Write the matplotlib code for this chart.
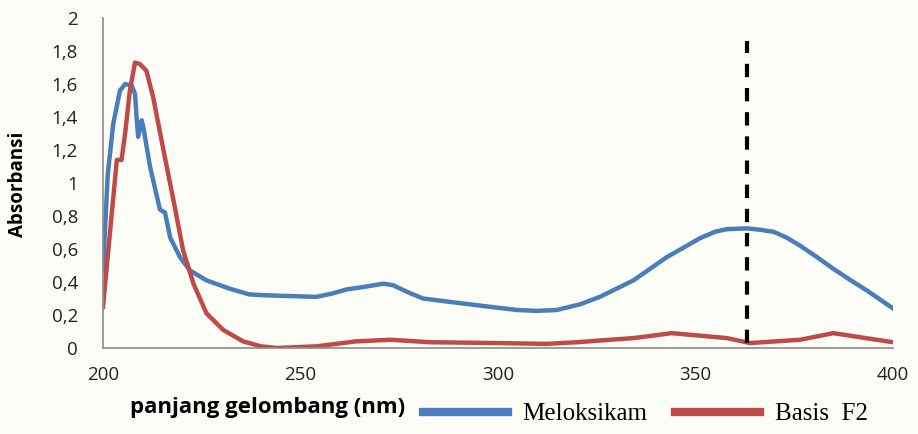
import matplotlib.pyplot as plt

# wavelength (nm) and absorbance
wl_melok = [200, 201.2, 202.6, 204.3, 205.6, 207.3, 208.1, 208.5, 208.9, 209.8, 210.2,
            211.9, 214.4, 215.7, 217, 219.5, 222, 226.2, 232, 237, 240.6, 247, 254,
            258, 261.7, 266, 271, 273.5, 277, 281, 291, 299.6, 305, 309.8, 314.8,
            320.8, 325.8, 334.3, 342.7, 351.1, 355, 357.9, 363, 367, 368, 369.7,
            373, 376.5, 380.5, 384.9, 389, 393.3, 400]
abs_melok = [0.47, 1.05, 1.36, 1.56, 1.60, 1.59, 1.54, 1.40, 1.28, 1.38, 1.34,
             1.10, 0.84, 0.82, 0.67, 0.55, 0.47, 0.41, 0.36, 0.325, 0.32, 0.315, 0.31,
             0.33, 0.355, 0.37, 0.39, 0.38, 0.34, 0.30, 0.27, 0.245, 0.23, 0.225, 0.23,
             0.265, 0.31, 0.41, 0.55, 0.665, 0.705, 0.72, 0.725, 0.715, 0.71, 0.705,
             0.67, 0.62, 0.555, 0.48, 0.415, 0.35, 0.24]

wl_basis = [200, 203.5, 204.7, 205.6, 206.8, 208.1, 209.4, 211, 212.7, 215.3, 217.8,
            220.3, 222.9, 226.2, 230.4, 235.5, 240, 244, 254, 264, 272.7, 282.8,
            299.6, 312.3, 320, 328.4, 334.3, 344, 351, 357.9, 363.8, 376.5, 384.9, 400]
abs_basis = [0.25, 1.14, 1.14, 1.30, 1.56, 1.73, 1.72, 1.68, 1.52, 1.20, 0.90,
             0.59, 0.39, 0.21, 0.11, 0.04, 0.01, 0.0, 0.01, 0.04, 0.05, 0.035,
             0.03, 0.025, 0.035, 0.05, 0.06, 0.09, 0.075, 0.06, 0.03, 0.05, 0.09, 0.035]

lambda_max = 363
x_ticks = [200, 250, 300, 350, 400]
y_ticks = [0, 0.2, 0.4, 0.6, 0.8, 1, 1.2, 1.4, 1.6, 1.8, 2]
y_labels = ["0", "0,2", "0,4", "0,6", "0,8", "1", "1,2", "1,4", "1,6", "1,8", "2"]

bg = "#fcfdf7"
fig = plt.figure(figsize=(9.18, 4.34), dpi=100, facecolor=bg)
ax = fig.add_axes([103 / 918, 1 - 348 / 434, 790 / 918, 330 / 434], facecolor=bg)

ax.plot(wl_melok, abs_melok, color="#4a7ebb", lw=3.2, solid_joinstyle="round",
        label="Meloksikam")
ax.plot(wl_basis, abs_basis, color="#be4b48", lw=3.2, solid_joinstyle="round",
        label="Basis  F2")
ax.plot([lambda_max, lambda_max], [0.03, 1.86], color="black", lw=3,
        ls=(0, (3.2, 2.6)))

ax.set_xlim(200, 400)
ax.set_ylim(0, 2)
ax.set_xticks(x_ticks)
ax.set_yticks(y_ticks)
ax.set_yticklabels(y_labels)
ax.tick_params(length=0, labelsize=13.5, colors="#222222")
ax.tick_params(axis="y", pad=18)
ax.tick_params(axis="x", pad=13)
for lab in ax.get_xticklabels() + ax.get_yticklabels():
    lab.set_family("Open Sans")

for s in ["top", "right"]:
    ax.spines[s].set_visible(False)
for s in ["left", "bottom"]:
    ax.spines[s].set_color("#8c8c8c")
    ax.spines[s].set_linewidth(1.2)

fig.text(18 / 918, 1 - 184 / 434, "Absorbansi", rotation=90, ha="center", va="center",
         fontsize=13.5, fontweight="bold", family="Open Sans")
fig.text(130 / 918, 1 - 407 / 434, "panjang gelombang (nm)", ha="left", va="center",
         fontsize=16, fontweight="bold", family="Open Sans")

leg = fig.legend(loc="center left", bbox_to_anchor=(400 / 918, 1 - 414 / 434), ncol=2,
                 frameon=False, handlelength=3.4, columnspacing=1.1, handletextpad=0.6,
                 prop={"family": "Liberation Serif", "size": 18})
for h in leg.get_lines():
    h.set_linewidth(6)

fig.savefig("out.png", dpi=100, facecolor=bg)
